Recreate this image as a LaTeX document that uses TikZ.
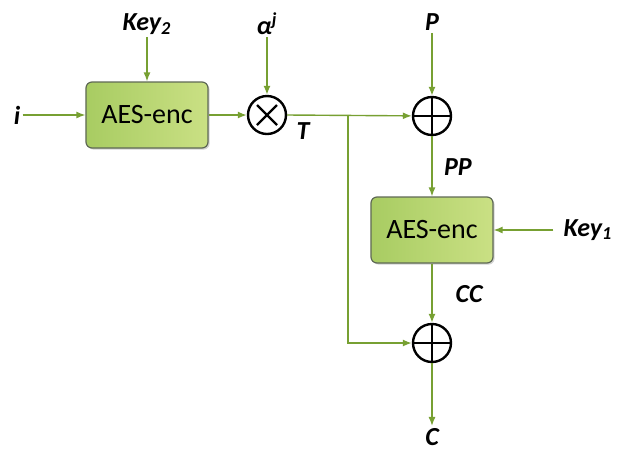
\documentclass[tikz,border=0pt]{standalone}
\usepackage{fontspec}
\setmainfont{Carlito}
\usetikzlibrary{arrows.meta,shadows}

\definecolor{flowgreen}{RGB}{119,160,50}
\definecolor{boxleft}{RGB}{168,204,98}
\definecolor{boxright}{RGB}{202,224,132}
\definecolor{boxedge}{RGB}{95,105,85}

\tikzset{
  encbox/.style={draw=boxedge, line width=0.6pt, rounded corners=3pt,
    left color=boxleft, right color=boxright,
    minimum width=61pt, minimum height=33pt,
    font=\fontsize{14}{16}\selectfont,
    drop shadow={shadow xshift=0.8pt, shadow yshift=-0.8pt, opacity=0.35}},
  gate/.style={draw, circle, line width=1.2pt, minimum size=19pt, inner sep=0pt},
  lab/.style={font=\fontsize{13}{15}\selectfont\bfseries\itshape, inner sep=1pt},
  flow/.style={draw=flowgreen, line width=0.7pt, -{Latex[length=4.5pt,width=3.5pt]}},
}

\begin{document}
\begin{tikzpicture}[x=0.5pt,y=-0.5pt]
\useasboundingbox (0,0) rectangle (618,452);

\node[encbox] (enctwo) at (147,115) {AES-enc};
\node[gate] (mul) at (267,115) {};
\node[gate] (xorone) at (432,116) {};
\node[encbox] (encone) at (432,230) {AES-enc};
\node[gate] (xortwo) at (432,343) {};

\draw[line width=1.1pt] (mul) +(-10,-10) -- +(10,10);
\draw[line width=1.1pt] (mul) +(-10,10) -- +(10,-10);
\draw[line width=1.1pt] (xorone.north) -- (xorone.south);
\draw[line width=1.1pt] (xorone.west) -- (xorone.east);
\draw[line width=1.1pt] (xortwo.north) -- (xortwo.south);
\draw[line width=1.1pt] (xortwo.west) -- (xortwo.east);

\node[lab] (i) at (17,115) {i};
\node[lab] (keytwo) at (147,24) {Key\textsubscript{2}};
\node[lab] (alpha) at (267,24) {α\textsuperscript{j}};
\node[lab] (T) at (303,131) {T};
\node[lab] (P) at (432,22) {P};
\node[lab] (PP) at (458,167) {PP};
\node[lab] (keyone) at (588,230) {Key\textsubscript{1}};
\node[lab] (CC) at (469,294) {CC};
\node[lab] (C) at (432,437) {C};
\coordinate (tap) at (348,116);

\draw[flow] (i) -- (enctwo);
\draw[flow] (keytwo) -- (enctwo);
\draw[flow] (enctwo) -- (mul);
\draw[flow] (alpha) -- (mul);
\draw[flow] (mul.east) -- (xorone);
\draw[flow] (P) -- (xorone);
\draw[flow] (xorone) -- (encone);
\draw[flow, shorten <=4pt] (keyone) -- (encone);
\draw[flow] (encone) -- (xortwo);
\draw[flow] (tap) |- (xortwo);
\draw[flow] (xortwo) -- (C);
\end{tikzpicture}
\end{document}
